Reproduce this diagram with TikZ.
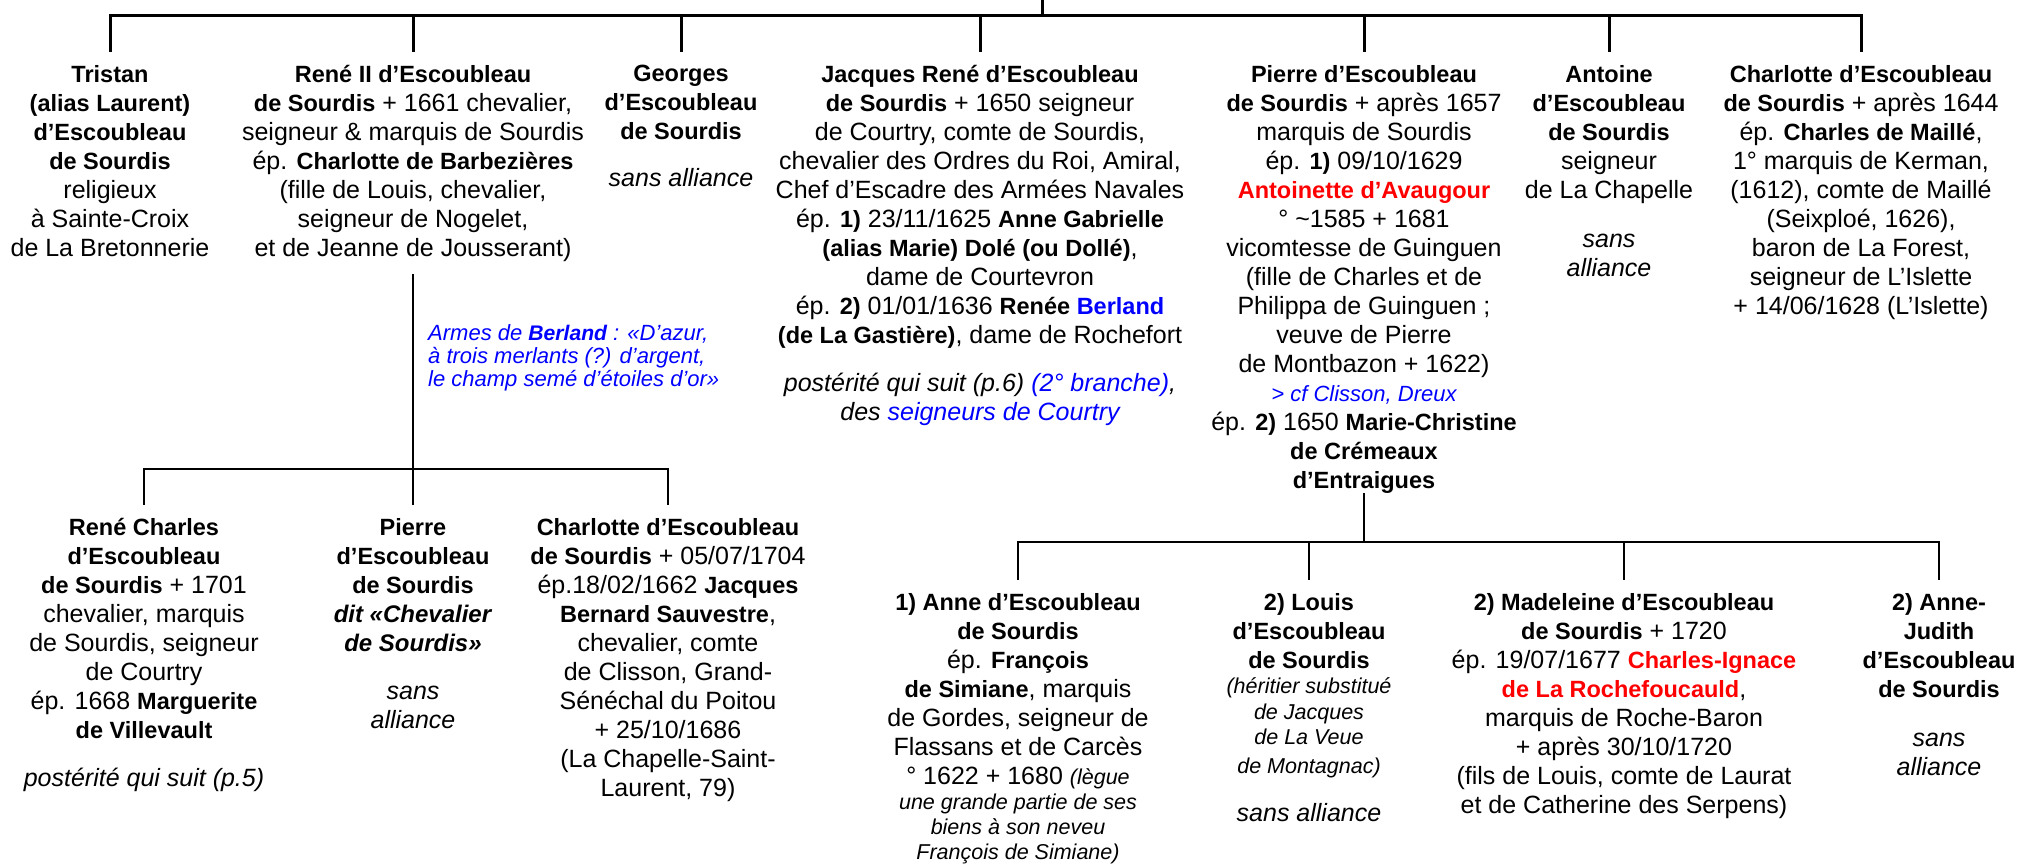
\documentclass[tikz,border=0pt]{standalone}
\usepackage{fontspec}
\setmainfont{Liberation Sans}[BoldFeatures={Scale=0.94},BoldItalicFeatures={Scale=0.96}]
\definecolor{armsblue}{RGB}{0,0,255}
\definecolor{keyred}{RGB}{255,0,0}
\newcommand{\smallnote}[1]{{\fontsize{21.5}{25}\selectfont\itshape #1}}

\begin{document}
\begin{tikzpicture}[x=1pt, y=-1pt,
        person/.style={align=center, anchor=north, inner sep=0pt, outer ysep=13pt, font=\fontsize{25}{29}\selectfont},
        arms/.style={align=left, anchor=north west, inner sep=0pt, text=armsblue, font=\fontsize{22}{23.3}\selectfont\itshape},
        bus/.style={line width=3pt},
        branch/.style={line width=2.6pt}]
        \useasboundingbox (0,0) rectangle (2019,863);
        \coordinate (top) at (1042,0);
        \coordinate (bus) at (1042,15);
        \coordinate (fork2) at (413,469);
        \coordinate (fork3) at (1364,542);

        \node[person] (tristan) at (110,52) {\textbf{Tristan}\\ \textbf{(alias Laurent)}\\ \textbf{d’Escoubleau}\\ \textbf{de Sourdis}\\
            religieux\\ à Sainte-Croix\\ de La Bretonnerie};
        \node[person] (rene) at (413,52) {\textbf{René II d’Escoubleau}\\ \textbf{de Sourdis} + 1661 chevalier,\\
            seigneur \& marquis de Sourdis\\ ép. \textbf{Charlotte de Barbezières}\\ (fille de Louis, chevalier,\\
            seigneur de Nogelet,\\ et de Jeanne de Jousserant)};
        \node[person] (georges) at (681,52) {\textbf{Georges}\\ \textbf{d’Escoubleau}\\ \textbf{de Sourdis}\\[18pt] \textit{sans alliance}};
        \node[person] (jacques) at (980,52) {\textbf{Jacques René d’Escoubleau}\\ \textbf{de Sourdis} + 1650 seigneur\\
            de Courtry, comte de Sourdis,\\ chevalier des Ordres du Roi, Amiral,\\ Chef d’Escadre des Armées Navales\\
            ép. \textbf{1)} 23/11/1625 \textbf{Anne Gabrielle}\\ \textbf{(alias Marie) Dolé (ou Dollé)},\\ dame de Courtevron\\
            ép. \textbf{2)} 01/01/1636 \textbf{Renée \textcolor{armsblue}{Berland}}\\ \textbf{(de La Gastière)}, dame de Rochefort\\[19pt]
            \textit{postérité qui suit (p.6) \textcolor{armsblue}{(2° branche)},}\\ \textit{des \textcolor{armsblue}{seigneurs de Courtry}}};
        \node[person] (pierre) at (1364,52) {\textbf{Pierre d’Escoubleau}\\ \textbf{de Sourdis} + après 1657\\ marquis de Sourdis\\
            ép. \textbf{1)} 09/10/1629\\ \textcolor{keyred}{\textbf{Antoinette d’Avaugour}}\\ ° \textasciitilde 1585 + 1681\\
            vicomtesse de Guinguen\\ (fille de Charles et de\\ Philippa de Guinguen ;\\ veuve de Pierre\\ de Montbazon + 1622)\\
            {\fontsize{22}{25}\selectfont\itshape\color{armsblue}> cf Clisson, Dreux}\\
            ép. \textbf{2)} 1650 \textbf{Marie-Christine}\\ \textbf{de Crémeaux}\\ \textbf{d’Entraigues}};
        \node[person] (antoine) at (1609,52) {\textbf{Antoine}\\ \textbf{d’Escoubleau}\\ \textbf{de Sourdis}\\ seigneur\\ de La Chapelle\\[20pt]
            \textit{sans}\\ \textit{alliance}};
        \node[person] (charlotte) at (1861,52) {\textbf{Charlotte d’Escoubleau}\\ \textbf{de Sourdis} + après 1644\\
            ép. \textbf{Charles de Maillé},\\ 1° marquis de Kerman,\\ (1612), comte de Maillé\\ (Seixploé, 1626),\\
            baron de La Forest,\\ seigneur de L’Islette\\ + 14/06/1628 (L’Islette)};

        \node[arms] (armes) at (428,324) {Armes de \textbf{Berland} : «D’azur,\\ à trois merlants (?) d’argent,\\ le champ semé d’étoiles d’or»};

        \node[person] (renecharles) at (144,505) {\textbf{René Charles}\\ \textbf{d’Escoubleau}\\ \textbf{de Sourdis} + 1701\\
            chevalier, marquis\\ de Sourdis, seigneur\\ de Courtry\\ ép. 1668 \textbf{Marguerite}\\ \textbf{de Villevault}\\[19pt]
            \textit{postérité qui suit (p.5)}};
        \node[person] (pierrefils) at (413,505) {\textbf{Pierre}\\ \textbf{d’Escoubleau}\\ \textbf{de Sourdis}\\
            \textbf{\textit{dit «Chevalier}}\\ \textbf{\textit{de Sourdis»}}\\[19pt] \textit{sans}\\ \textit{alliance}};
        \node[person] (charlottefille) at (668,505) {\textbf{Charlotte d’Escoubleau}\\ \textbf{de Sourdis} + 05/07/1704\\
            ép.18/02/1662 \textbf{Jacques}\\ \textbf{Bernard Sauvestre},\\ chevalier, comte\\ de Clisson, Grand-\\
            Sénéchal du Poitou\\ + 25/10/1686\\ (La Chapelle-Saint-\\ Laurent, 79)};

        \node[person] (anne) at (1018,580) {\textbf{1) Anne d’Escoubleau}\\ \textbf{de Sourdis}\\ ép. \textbf{François}\\
            \textbf{de Simiane}, marquis\\ de Gordes, seigneur de\\ Flassans et de Carcès\\ ° 1622 + 1680 \smallnote{(lègue}\\[-4pt]
            \smallnote{une grande partie de ses}\\[-4pt] \smallnote{biens à son neveu}\\[-4pt] \smallnote{François de Simiane)}};
        \node[person] (louis) at (1309,580) {\textbf{2) Louis}\\ \textbf{d’Escoubleau}\\ \textbf{de Sourdis}\\[-4pt]
            \smallnote{(héritier substitué}\\[-3pt] \smallnote{de Jacques}\\[-4pt] \smallnote{de La Veue}\\
            \smallnote{de Montagnac)}\\[19pt] \textit{sans alliance}};
        \node[person] (madeleine) at (1624,580) {\textbf{2) Madeleine d’Escoubleau}\\ \textbf{de Sourdis} + 1720\\
            ép. 19/07/1677 \textcolor{keyred}{\textbf{Charles-Ignace}}\\ \textcolor{keyred}{\textbf{de La Rochefoucauld}},\\
            marquis de Roche-Baron\\ + après 30/10/1720\\ (fils de Louis, comte de Laurat\\ et de Catherine des Serpens)};
        \node[person] (annejudith) at (1939,580) {\textbf{2) Anne-}\\ \textbf{Judith}\\ \textbf{d’Escoubleau}\\ \textbf{de Sourdis}\\[20pt]
            \textit{sans}\\ \textit{alliance}};

        \draw[bus] (top) -- (bus);
        \draw[bus] (tristan.north) |- (bus) -| (charlotte.north);
        \foreach \n in {rene,georges,jacques,pierre,antoine}
            \draw[bus] (\n.north |- bus) -- (\n.north);

        \draw[branch] (rene.south) -- (pierrefils.north);
        \draw[branch] (renecharles.north) |- (fork2) -| (charlottefille.north);

        \draw[branch] ([yshift=13pt]pierre.south) -- (fork3);
        \draw[branch] (anne.north) |- (fork3) -| (annejudith.north);
        \foreach \n in {louis,madeleine}
            \draw[branch] (\n.north |- fork3) -- (\n.north);
\end{tikzpicture}
\end{document}
